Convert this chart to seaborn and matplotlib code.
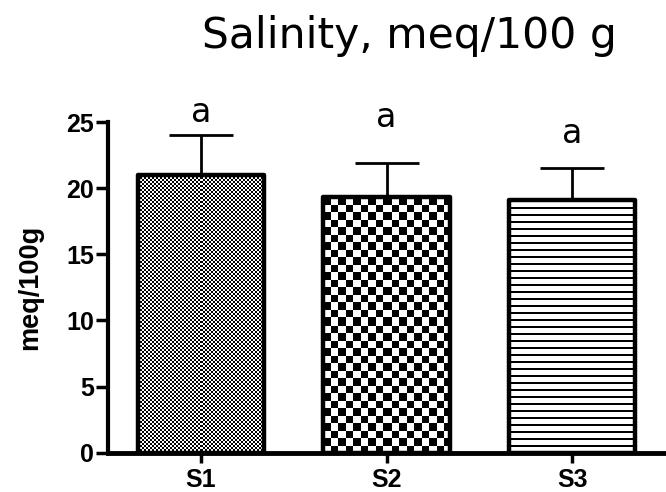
import numpy as np
import pandas as pd
import matplotlib
matplotlib.use("Agg")
import matplotlib.pyplot as plt
import seaborn as sns

# Salinity by site (mean and standard error, meq/100 g)
sites = ["S1", "S2", "S3"]
means = [21.0, 19.3, 19.1]
sem = [3.0, 2.6, 2.4]
letters = ["a", "a", "a"]
yticks = [0, 5, 10, 15, 20, 25]

sns.set_style("ticks")
plt.rcParams["font.family"] = ["Liberation Sans", "DejaVu Sans"]
plt.rcParams.update({
    "text.color": "black",
    "axes.labelcolor": "black",
    "axes.edgecolor": "black",
    "xtick.color": "black",
    "ytick.color": "black",
})

W, H = 666, 492
fig = plt.figure(figsize=(W / 100, H / 100), dpi=100)
ax = fig.add_axes([108 / W, 1 - 452.7 / H, (665 - 108) / W, (452.7 - 122) / H])

df = pd.DataFrame({"site": sites, "mean": means})
sns.barplot(data=df, x="site", y="mean", ax=ax, width=0.68, color="white",
            saturation=1, edgecolor="black", linewidth=3.2, errorbar=None)

ax.set_ylim(0, 25)
ax.set_xlim(-0.5, len(sites) - 0.5)


def checker(h, w, cell):
    r = (np.arange(h) // cell).astype(int)[:, None]
    c = (np.arange(w) // cell).astype(int)[None, :]
    return ((r + c) % 2).astype(float)


def stripes(h, w, period, thick):
    r = (np.arange(h) % period) < thick
    return np.where(r[:, None], 0.0, 1.0) * np.ones((1, w))


fig.canvas.draw()
bars = list(ax.patches)
fills = [lambda h, w: checker(h, w, 2),
         lambda h, w: checker(h, w, 7.5),
         lambda h, w: stripes(h, w, 7, 2)]
for bar, fill in zip(bars, fills):
    bb = bar.get_window_extent()
    pw, ph = int(round(bb.width)), int(round(bb.height))
    img = fill(ph, pw)
    x0 = bar.get_x()
    im = ax.imshow(img, cmap="gray", vmin=0, vmax=1, interpolation="nearest",
                   extent=(x0, x0 + bar.get_width(), bar.get_y(), bar.get_y() + bar.get_height()),
                   aspect="auto", origin="upper", zorder=bar.get_zorder() - 0.1)
    im.set_clip_path(bar)
    bar.set_facecolor("none")
    bar.set_joinstyle("round")

ax.set_ylim(0, 25)
ax.set_xlim(-0.5, len(sites) - 0.5)

xpos = np.arange(len(sites))
ax.errorbar(xpos, means, yerr=[np.zeros(len(sem)), sem], fmt="none",
            ecolor="black", elinewidth=2, capsize=22.7, capthick=2, zorder=1)

# significance letters above each bar
letter_gap = [1.0, 2.7, 1.9]
for x, m, s, g, t in zip(xpos, means, sem, letter_gap, letters):
    ax.text(x, m + s + g, t, ha="center", va="baseline", fontsize=24,
            family="DejaVu Sans", color="black", clip_on=False)

sns.despine(ax=ax)
ax.spines["left"].set_linewidth(3)
ax.spines["bottom"].set_linewidth(3.5)
ax.set_yticks(yticks)
ax.tick_params(axis="y", direction="out", length=8.5, width=2.5, pad=1.5,
               labelsize=18, colors="black")
ax.tick_params(axis="x", direction="out", length=7.5, width=2.5, pad=3.5,
               labelsize=18, colors="black")
for lab in ax.get_xticklabels() + ax.get_yticklabels():
    lab.set_fontweight("bold")

ax.set_xlabel("")
ax.set_ylabel("meq/100g", fontsize=19.5, fontweight="bold", color="black")
ax.yaxis.set_label_coords(-0.117, 0.5)

fig.text(202 / W, 1 - 48 / H, "Salinity, meq/100 g", fontsize=30.6,
         family="DejaVu Sans", color="black", ha="left", va="baseline")

fig.savefig("out.png", dpi=100)
